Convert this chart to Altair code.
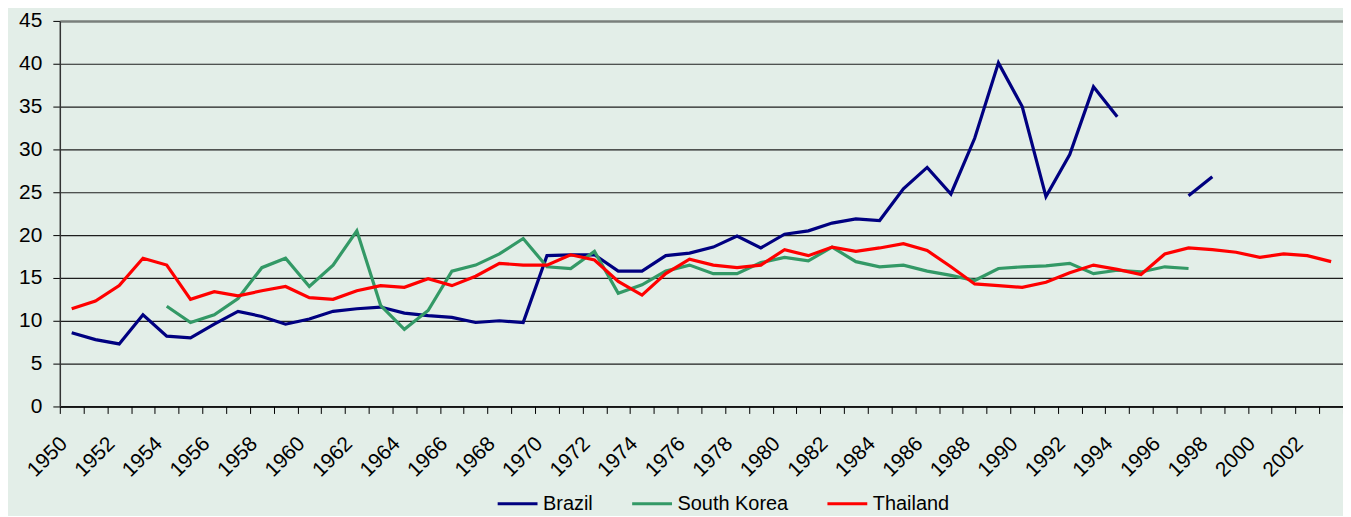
import altair as alt
import pandas as pd

years = list(range(1950, 2004))

brazil = [8.6, 7.8, 7.3, 10.7, 8.2, 8.0, 9.6, 11.1, 10.5, 9.6,
          10.2, 11.1, 11.4, 11.6, 10.9, 10.6, 10.4, 9.8, 10.0, 9.8,
          17.6, 17.7, 17.7, 15.8, 15.8, 17.6, 17.9, 18.6, 19.9, 18.5,
          20.1, 20.5, 21.4, 21.9, 21.7, 25.4, 27.9, 24.8, 31.3, 40.1,
          35.0, 24.5, 29.4, 37.3, 33.8, None, None, 24.6, 26.8, None,
          None, None, None, None]

south_korea = [None, None, None, None, 11.7, 9.8, 10.7, 12.6, 16.2, 17.3,
               14.0, 16.5, 20.5, 11.8, 9.0, 11.2, 15.8, 16.5, 17.8, 19.6,
               16.3, 16.1, 18.1, 13.2, 14.2, 15.8, 16.5, 15.5, 15.5, 16.8,
               17.4, 17.0, 18.6, 16.9, 16.3, 16.5, 15.8, 15.3, 14.7, 16.1,
               16.3, 16.4, 16.7, 15.5, 15.9, 15.7, 16.3, 16.1, None, None,
               None, None, None, None]

thailand = [11.4, 12.3, 14.1, 17.3, 16.5, 12.5, 13.4, 12.9, 13.5, 14.0,
            12.7, 12.5, 13.5, 14.1, 13.9, 14.9, 14.1, 15.2, 16.7, 16.5,
            16.5, 17.7, 17.1, 14.6, 13.0, 15.5, 17.2, 16.5, 16.2, 16.5,
            18.3, 17.6, 18.6, 18.1, 18.5, 19.0, 18.2, 16.3, 14.3, 14.1,
            13.9, 14.5, 15.6, 16.5, 16.0, 15.4, 17.8, 18.5, 18.3, 18.0,
            17.4, 17.8, 17.6, 16.9]

series_names = ["Brazil", "South Korea", "Thailand"]
series_values = [brazil, south_korea, thailand]
series_colors = ["#000080", "#339966", "#FF0000"]

rows = []
for name, vals in zip(series_names, series_values):
    seg = 0
    for yr, v in zip(years, vals):
        if v is None:
            seg += 1
            continue
        rows.append({"year": yr, "value": v, "country": name,
                     "segment": f"{name}-{seg}"})
df = pd.DataFrame(rows)

FONT = "Liberation Sans"
BG = "#E3EEE8"

chart = alt.Chart(df).mark_line(strokeWidth=3.2).encode(
    x=alt.X("year:O", bandPosition=0.5,
            scale=alt.Scale(type="band", domain=years, paddingInner=0, paddingOuter=0),
            axis=alt.Axis(title=None, tickBand="extent", labelAngle=-45,
                          labelAlign="right", labelBaseline="middle",
                          labelExpr="datum.value % 2 == 0 ? datum.label : ''",
                          labelOverlap=False, labelPadding=27, labelOffset=-8,
                          tickSize=7, tickColor="#000000", domainColor="#000000",
                          domainWidth=1.5, labelFontSize=21, labelFont=FONT,
                          labelColor="#000000", grid=False)),
    y=alt.Y("value:Q",
            scale=alt.Scale(domain=[0, 45], nice=False, zero=True),
            axis=alt.Axis(title=None, values=list(range(0, 50, 5)),
                          tickSize=7, tickColor="#000000",
                          domainColor="#333333", domainWidth=1.5,
                          labelFontSize=21, labelFont=FONT, labelColor="#000000",
                          labelPadding=11,
                          grid=True,
                          gridColor={"condition": {"test": "datum.value === 45", "value": "#7a7f7c"}, "value": "#1e1e1e"},
                          gridWidth={"condition": {"test": "datum.value === 45", "value": 2.5}, "value": 1.2})),
    color=alt.Color("country:N",
                    scale=alt.Scale(domain=series_names, range=series_colors),
                    legend=alt.Legend(title=None, orient="none", direction="horizontal",
                                      legendX=438, legendY=463,
                                      symbolType="stroke", symbolSize=1600,
                                      symbolStrokeWidth=3, labelFontSize=20,
                                      labelFont=FONT, labelColor="#000000",
                                      labelOffset=4, columnPadding=32, padding=0)),
    detail="segment:N",
).properties(
    width=1288,
    height=387,
    autosize=alt.AutoSizeParams(type="none"),
    padding={"left": 52, "top": 12, "right": 0, "bottom": 109},
    background=BG,
).configure_view(
    stroke=None,
    fill=BG,
)

chart.save("out.html", embed_options={"renderer": "svg", "actions": False})
